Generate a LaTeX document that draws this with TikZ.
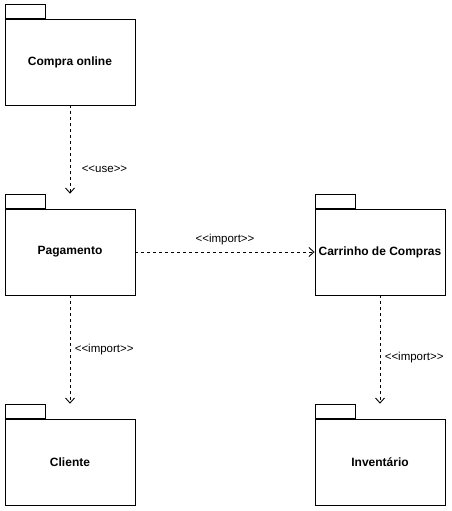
\documentclass[tikz,border=0pt]{standalone}
\usepackage{fontspec}
\setmainfont{Liberation Sans}
\usetikzlibrary{arrows.meta}

\newcommand{\stname}[1]{<\kern0pt<#1>\kern0pt>}

\tikzset{
  pkg/.style={draw, line width=0.9pt, fill=white, minimum width=130pt, minimum height=86pt,
    inner sep=0pt, font=\fontsize{12}{14}\selectfont\bfseries},
  pkgtab/.style={draw, line width=0.9pt, fill=white, minimum width=40pt, minimum height=14pt,
    inner sep=0pt, anchor=south west},
  dep/.style={line width=0.9pt, dash pattern=on 3pt off 3pt,
    -{Straight Barb[length=5pt,width=9pt]}},
  stereo/.style={font=\fontsize{11.5}{13}\selectfont}
}

\begin{document}
\begin{tikzpicture}[x=1pt,y=-1pt]
\useasboundingbox (0,0) rectangle (451,511);
\node[pkg] (compra) at (70,62) {Compra online};
\node[pkgtab] (compratab) at (compra.north west) {};
\node[pkg] (pagamento) at (70,252) {Pagamento};
\node[pkgtab] (pagamentotab) at (pagamento.north west) {};
\node[pkg] (carrinho) at (380,252) {Carrinho de Compras};
\node[pkgtab] (carrinhotab) at (carrinho.north west) {};
\node[pkg] (cliente) at (70,462) {Cliente};
\node[pkgtab] (clientetab) at (cliente.north west) {};
\node[pkg] (inventario) at (380,462) {Inventário};
\node[pkgtab] (inventariotab) at (inventario.north west) {};
\draw[dep] (compra.south) -- (compra.south |- pagamentotab.north)
  node[stereo, pos=0.72, right=8pt] (lbluse) {\stname{use}};
\draw[dep] (pagamento.east) -- (carrinho.west)
  node[stereo, midway, above=3pt] (lblimp1) {\stname{import}};
\draw[dep] (pagamento.south) -- (pagamento.south |- clientetab.north)
  node[stereo, pos=0.5, right=1pt] (lblimp2) {\stname{import}};
\draw[dep] (carrinho.south) -- (carrinho.south |- inventariotab.north)
  node[stereo, pos=0.57, right=1pt] (lblimp3) {\stname{import}};
\end{tikzpicture}
\end{document}
